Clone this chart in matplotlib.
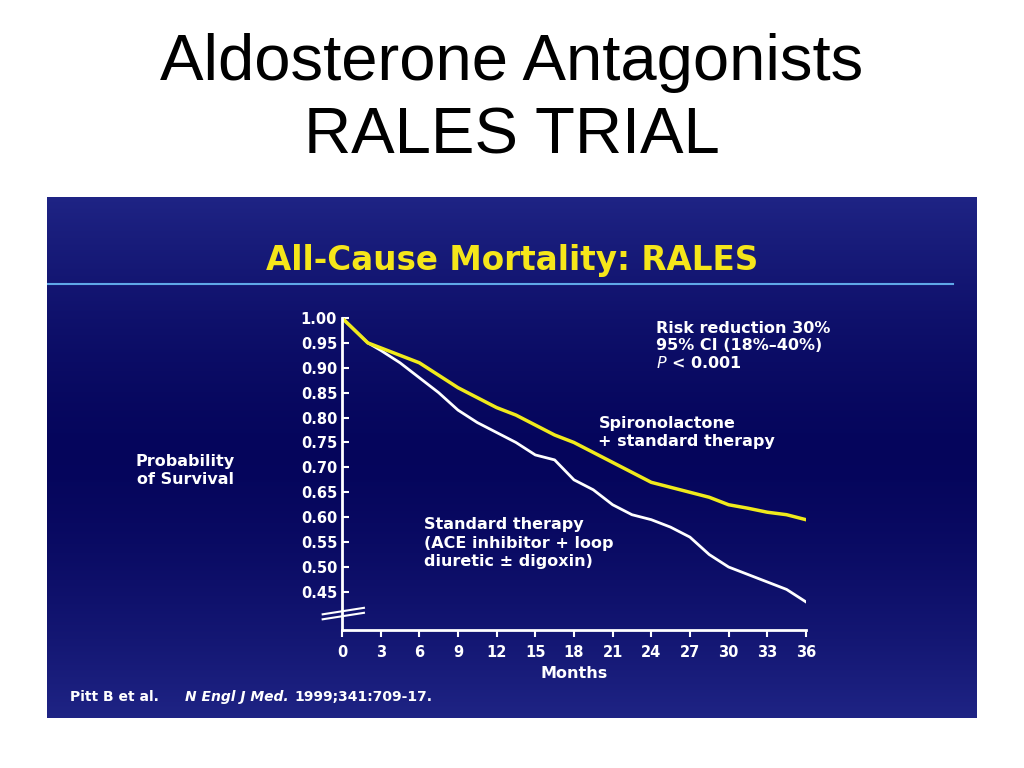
import numpy as np
import matplotlib
matplotlib.use("Agg")
import matplotlib.pyplot as plt

months = [0, 1, 2, 3, 4.5, 6, 7.5, 9, 10.5, 12, 13.5, 15, 16.5, 18, 19.5, 21, 22.5, 24, 25.5, 27, 28.5, 30, 31.5, 33, 34.5, 36]
spiro = [1.0, 0.975, 0.95, 0.94, 0.925, 0.91, 0.885, 0.86, 0.84, 0.82, 0.805, 0.785, 0.765, 0.75, 0.73, 0.71, 0.69, 0.67, 0.66, 0.65, 0.64, 0.625, 0.618, 0.61, 0.605, 0.595]
standard = [1.0, 0.975, 0.95, 0.935, 0.91, 0.88, 0.85, 0.815, 0.79, 0.77, 0.75, 0.725, 0.715, 0.675, 0.655, 0.625, 0.605, 0.595, 0.58, 0.56, 0.525, 0.50, 0.485, 0.47, 0.455, 0.43]
xticks = [0, 3, 6, 9, 12, 15, 18, 21, 24, 27, 30, 33, 36]
yticks = [1.00, 0.95, 0.90, 0.85, 0.80, 0.75, 0.70, 0.65, 0.60, 0.55, 0.50, 0.45]

plt.rcParams['font.family'] = ['Liberation Sans', 'DejaVu Sans']
fig = plt.figure(figsize=(10.24, 7.68), dpi=100)
fig.patch.set_facecolor('white')

fig.text(0.5, 0.918, "Aldosterone Antagonists", ha='center', va='center', fontsize=47, color='black')
fig.text(0.5, 0.822, "RALES TRIAL", ha='center', va='center', fontsize=47, color='black')

DJ = 'DejaVu Sans'
# background panel with gradient
bg = fig.add_axes([0.046, 0.065, 0.908, 0.678])
t = np.linspace(0, 1, 256)
g = np.abs(t - 0.5) * 2
top = np.array([0.12, 0.14, 0.52])
mid = np.array([0.02, 0.02, 0.36])
cols = mid[None, :] + (top - mid)[None, :] * (g[:, None] ** 1.5)
bg.imshow(cols[:, None, :], aspect='auto', extent=[0, 1, 0, 1])
bg.set_xlim(0, 1); bg.set_ylim(0, 1); bg.axis('off')
bg.plot([0.0, 0.974], [0.833, 0.833], color='#5fa8e8', lw=1.5)
bg.text(0.5, 0.879, "All-Cause Mortality: RALES", ha='center', va='center', fontsize=23.5,
        fontweight='bold', color='#f5e61a', family=DJ)
bg.text(0.025, 0.04, "Pitt B et al.", ha='left', va='center', fontsize=10, fontweight='bold', color='white', family=DJ)
bg.text(0.148, 0.04, "N Engl J Med.", ha='left', va='center', fontsize=10, fontweight='bold', style='italic', color='white', family=DJ)
bg.text(0.266, 0.04, "1999;341:709-17.", ha='left', va='center', fontsize=10, fontweight='bold', color='white', family=DJ)

ax = fig.add_axes([0.334, 0.180, 0.453, 0.406])
ax.patch.set_alpha(0)
ax.plot(months, standard, color='white', lw=2)
ax.plot(months, spiro, color='#f0ea1c', lw=2.5)
ax.set_xlim(0, 36)
ax.set_ylim(0.374, 1.0)
ax.set_xticks(xticks)
ax.set_xticklabels([str(x) for x in xticks])
ax.set_yticks(yticks)
ax.set_yticklabels([f"{y:.2f}" for y in yticks])
for s in ['top', 'right']:
    ax.spines[s].set_visible(False)
for s in ['left', 'bottom']:
    ax.spines[s].set_color('white'); ax.spines[s].set_linewidth(2)
ax.tick_params(colors='white', direction='in', length=5, width=1.5, labelsize=10.5)
for lab in ax.get_xticklabels() + ax.get_yticklabels():
    lab.set_fontweight('bold'); lab.set_family(DJ)
ax.tick_params(axis='x', direction='out', pad=6)
ax.plot([-1.5, 1.7], [0.405, 0.418], color='white', lw=1.5, clip_on=False)
ax.plot([-1.5, 1.7], [0.395, 0.408], color='white', lw=1.5, clip_on=False)
ax.set_xlabel("Months", color='white', fontsize=11.5, fontweight='bold', labelpad=4, family=DJ)
fig.text(0.181, 0.388, "Probability\nof Survival", ha='center', va='center', fontsize=11.5,
         fontweight='bold', color='white', linespacing=1.25, family=DJ)
ax.text(24.4, 0.993, "Risk reduction 30%\n95% CI (18%\u201340%)\n$\\it{P}$ < 0.001", ha='left', va='top',
        fontsize=11.5, fontweight='bold', color='white', linespacing=1.15, family=DJ)
ax.text(19.9, 0.77, "Spironolactone\n+ standard therapy", ha='left', va='center', fontsize=11.5,
        fontweight='bold', color='white', linespacing=1.3, family=DJ)
ax.text(6.4, 0.548, "Standard therapy\n(ACE inhibitor + loop\ndiuretic \u00b1 digoxin)", ha='left', va='center',
        fontsize=11.5, fontweight='bold', color='white', linespacing=1.3, family=DJ)

fig.savefig("out.png", dpi=100, facecolor='white')
